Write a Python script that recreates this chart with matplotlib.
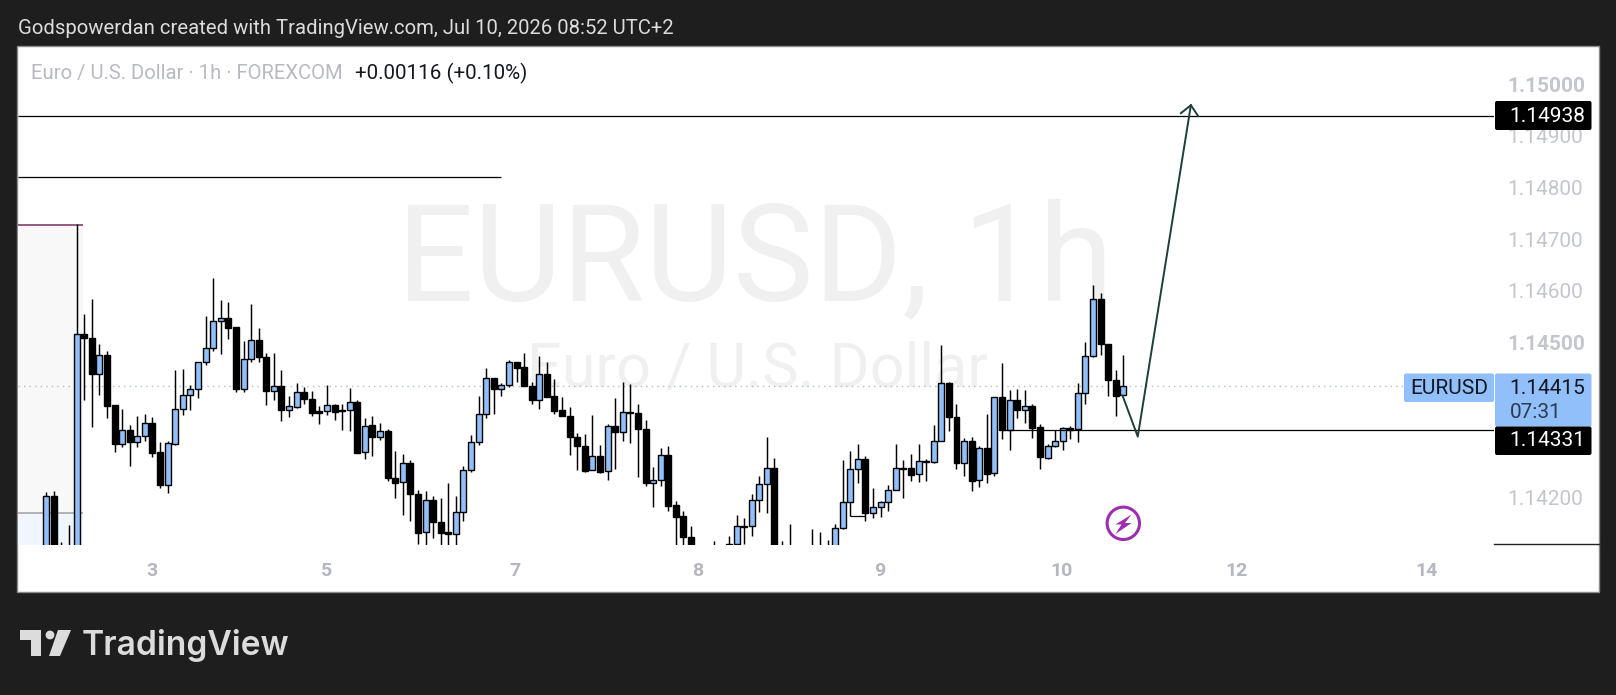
import matplotlib
matplotlib.use('Agg')
from matplotlib import pyplot as plt
from matplotlib.patches import Rectangle, Circle, Polygon, FancyBboxPatch
import numpy as np

# prices in 1e-5 units (first/last few clip below the pane)
opens = [114067, 114203, 114099, 114102, 114092, 114516, 114508, 114440, 114475, 114379,
         114304, 114330, 114308, 114319, 114344, 114288, 114225, 114304, 114371, 114398,
         114411, 114462, 114489, 114541, 114547, 114530, 114410, 114468, 114504, 114471,
         114406, 114415, 114370, 114376, 114404, 114390, 114367, 114367, 114379, 114370,
         114369, 114384, 114288, 114340, 114318, 114328, 114237, 114230, 114266, 114206,
         114133, 114195, 114152, 114134, 114129, 114172, 114253, 114307, 114361, 114431,
         114411, 114417, 114462, 114453, 114415, 114388, 114440, 114396, 114369, 114357,
         114318, 114299, 114253, 114280, 114251, 114338, 114326, 114365, 114363, 114332,
         114229, 114235, 114282, 114185, 114164, 114123, 114096, 114076, 114099, 114079,
         114092, 114111, 114145, 114145, 114195, 114226, 114257, 114099, 114086, 114096,
         114089, 114086, 114089, 114092, 114092, 114141, 114191, 114255, 114274, 114171,
         114181, 114191, 114214, 114257, 114257, 114245, 114270, 114268, 114309, 114421,
         114355, 114266, 114309, 114234, 114295, 114247, 114394, 114330, 114388, 114369,
         114377, 114336, 114276, 114299, 114309, 114334, 114332, 114402, 114473, 114584,
         114497, 114427, 114398]
highs = [114210, 114213, 114114, 114147, 114729, 114555, 114584, 114498, 114483, 114379,
         114371, 114340, 114358, 114361, 114355, 114307, 114309, 114446, 114448, 114417,
         114462, 114551, 114624, 114582, 114578, 114530, 114503, 114575, 114529, 114479,
         114479, 114446, 114396, 114422, 114414, 114406, 114377, 114417, 114382, 114381,
         114412, 114388, 114353, 114357, 114344, 114332, 114290, 114284, 114272, 114214,
         114212, 114203, 114199, 114228, 114203, 114261, 114322, 114397, 114450, 114431,
         114421, 114466, 114462, 114479, 114423, 114473, 114462, 114429, 114394, 114375,
         114324, 114323, 114359, 114302, 114342, 114393, 114423, 114420, 114381, 114350,
         114259, 114295, 114299, 114193, 114174, 114146, 114105, 114099, 114116, 114105,
         114125, 114166, 114160, 114206, 114241, 114317, 114276, 114116, 114149, 114105,
         114099, 114139, 114133, 114118, 114149, 114273, 114290, 114303, 114280, 114218,
         114193, 114224, 114303, 114272, 114284, 114303, 114274, 114340, 114495, 114423,
         114382, 114315, 114317, 114299, 114361, 114394, 114460, 114408, 114411, 114408,
         114382, 114343, 114303, 114330, 114336, 114338, 114422, 114501, 114611, 114595,
         114497, 114447, 114476]
lows = [114054, 114060, 114060, 114067, 114067, 114388, 114337, 114399, 114354, 114289,
        114297, 114262, 114297, 114310, 114279, 114219, 114208, 114302, 114360, 114370,
        114393, 114457, 114484, 114477, 114506, 114405, 114405, 114463, 114463, 114380,
        114388, 114349, 114355, 114374, 114382, 114357, 114343, 114360, 114351, 114331,
        114328, 114287, 114275, 114281, 114311, 114233, 114200, 114167, 114154, 114111,
        114100, 114121, 114095, 114098, 114090, 114154, 114250, 114302, 114353, 114361,
        114397, 114413, 114424, 114415, 114382, 114372, 114395, 114362, 114357, 114283,
        114253, 114250, 114253, 114248, 114235, 114256, 114310, 114306, 114239, 114223,
        114181, 114223, 114175, 114105, 114099, 114079, 114054, 114047, 114054, 114063,
        114079, 114111, 114110, 114125, 114173, 114171, 114073, 114066, 114073, 114066,
        114063, 114079, 114079, 114079, 114079, 114140, 114164, 114228, 114154, 114161,
        114163, 114175, 114214, 114200, 114233, 114231, 114233, 114266, 114309, 114328,
        114256, 114241, 114212, 114221, 114229, 114241, 114313, 114292, 114353, 114344,
        114316, 114256, 114274, 114297, 114293, 114313, 114307, 114382, 114471, 114475,
        114397, 114357, 114398]
closes = [114203, 114073, 114079, 114083, 114516, 114508, 114440, 114475, 114378, 114304,
          114330, 114308, 114319, 114344, 114287, 114225, 114305, 114371, 114398, 114411,
          114462, 114489, 114541, 114547, 114529, 114410, 114468, 114504, 114471, 114406,
          114415, 114370, 114377, 114404, 114390, 114364, 114364, 114379, 114366, 114368,
          114384, 114287, 114339, 114318, 114328, 114237, 114229, 114266, 114206, 114132,
          114195, 114152, 114132, 114129, 114172, 114253, 114307, 114361, 114431, 114411,
          114417, 114462, 114451, 114415, 114388, 114440, 114395, 114368, 114357, 114318,
          114299, 114252, 114280, 114250, 114338, 114326, 114365, 114363, 114332, 114229,
          114235, 114282, 114184, 114163, 114123, 114096, 114073, 114063, 114079, 114099,
          114111, 114145, 114144, 114195, 114226, 114257, 114086, 114079, 114099, 114079,
          114076, 114099, 114102, 114105, 114141, 114191, 114255, 114274, 114171, 114181,
          114191, 114214, 114257, 114256, 114244, 114270, 114269, 114309, 114421, 114355,
          114266, 114309, 114233, 114295, 114246, 114394, 114330, 114388, 114369, 114377,
          114335, 114278, 114299, 114309, 114334, 114330, 114402, 114473, 114584, 114497,
          114427, 114397, 114415]

price_ticks = [1.15, 1.149, 1.148, 1.147, 1.146, 1.145, 1.142]
price_labels = ['1.15000', '1.14900', '1.14800', '1.14700', '1.14600', '1.14500', '1.14200']
bold_prices = ['1.15000', '1.14500']
day_ticks = [14, 37, 61.75, 85.85, 109.9, 133.9, 156.85, 182]
day_labels = ['3', '5', '7', '8', '9', '10', '12', '14']

last_price = 1.14415
target_price = 1.14938
entry_price = 1.14331
upper_level = 1.1482
range_top = 1.14727
range_mid = 1.1417
small_level = 1.14164
arrow_x = [141.9, 143.9, 150.9]
arrow_y = [1.14397, 1.14318, 1.14959]

plt.rcParams['font.family'] = ['Roboto', 'DejaVu Sans']

W, H = 1616, 695
DARK = '#1e1e1e'
BLUE = '#90bff9'
GREY = '#c4c6cf'

fig = plt.figure(figsize=(W / 100, H / 100), dpi=100, facecolor=DARK)


def pixel_axes(zorder):
    a = fig.add_axes([0, 0, 1, 1], zorder=zorder)
    a.set_xlim(0, W)
    a.set_ylim(H, 0)
    a.axis('off')
    return a


bg = pixel_axes(0)
bg.add_patch(Rectangle((17, 46), 1582, 546, fc='white', ec='#8a8a8a', lw=1))

# price pane
left, right, top, bottom = 17.5, 1494, 46.5, 545
ax = fig.add_axes([left / W, 1 - bottom / H, (right - left) / W, (bottom - top) / H], zorder=1)
ax.patch.set_alpha(0)
bar_px = 7.585
ax.set_xlim((left - 46.3) / bar_px, (right - 46.3) / bar_px)
ax.set_ylim(1.15 - (bottom - 84) / 51700, 1.15 + (84 - top) / 51700)
for s in ax.spines.values():
    s.set_visible(False)

o = np.array(opens) / 1e5
h = np.array(highs) / 1e5
l = np.array(lows) / 1e5
c = np.array(closes) / 1e5
x = np.arange(len(o))
up = c >= o

ax.text(0.4995, 0.565, 'EURUSD, 1h', transform=ax.transAxes, ha='center', va='center',
        fontsize=97.5, color='#f0f0f1', zorder=0.5)
ax.text(0.501, 0.353, 'Euro / U.S. Dollar', transform=ax.transAxes, ha='center', va='center',
        fontsize=44, color='#f0f0f1', zorder=0.5)

x0 = ax.get_xlim()[0]
ax.fill_between([x0, 4.9], range_mid, range_top, color='#f8f8f9', lw=0, zorder=0.6)
ax.fill_between([x0, 4.9], ax.get_ylim()[0], range_mid, color='#f0f6fd', lw=0, zorder=0.6)
ax.hlines(range_top, x0, 4.9, color='#7b2d5e', lw=1.1, zorder=1)
ax.hlines(range_mid, x0, 4.9, color='#a0a0a4', lw=1.1, zorder=1)

ax.hlines(last_price, x0, ax.get_xlim()[1], color='#a9c0cc', lw=1, linestyles=(0, (1, 3)), zorder=1)

ax.vlines(x, l, h, color='black', lw=1.05, zorder=2)
ax.bar(x[up], (c - o)[up], bottom=o[up], width=0.79, color=BLUE, edgecolor='black', lw=1.0, zorder=3)
ax.bar(x[~up], (o - c)[~up], bottom=c[~up], width=0.79, color='black', edgecolor='black', lw=1.0, zorder=3)

ax.hlines(target_price, x0, ax.get_xlim()[1], color='black', lw=0.9, zorder=4)
ax.hlines(upper_level, x0, (501 - 46.3) / bar_px, color='black', lw=0.9, zorder=4)
ax.hlines(entry_price, 126, ax.get_xlim()[1], color='black', lw=0.9, zorder=4)
ax.hlines(small_level, 106, 108, color='black', lw=0.9, zorder=4)

ax.plot(arrow_x, arrow_y, color='#1d3f3a', lw=1.4, zorder=5)
ax.plot([arrow_x[2] - 1.32, arrow_x[2], arrow_x[2] + 0.96],
        [arrow_y[2] - 0.000155, arrow_y[2], arrow_y[2] - 0.00021], color='#1d3f3a', lw=1.4, zorder=5)

ax.yaxis.tick_right()
ax.set_yticks(price_ticks)
ax.set_yticklabels(price_labels, fontsize=15, color=GREY)
for t in ax.get_yticklabels():
    if t.get_text() in bold_prices:
        t.set_fontweight('bold')
ax.set_xticks(day_ticks)
ax.set_xticklabels(day_labels, fontsize=14, color='#b4b6c0', fontweight='bold')
ax.tick_params(axis='y', length=0, pad=9.5)
ax.tick_params(axis='x', length=0, pad=12.5)

# chrome on top of the pane
ov = pixel_axes(2)
ov.text(17.5, 29, 'Godspowerdan created with TradingView.com, Jul 10, 2026 08:52 UTC+2',
        color='#dcdcdc', fontsize=14.6, va='center', ha='left')
ov.text(31, 73, 'Euro / U.S. Dollar · 1h · FOREXCOM', color='#b8bac2', fontsize=14.6, va='center')
ov.text(355, 73, '+0.00116 (+0.10%)', color='#131722', fontsize=14.75, va='center')

ov.plot([1494, 1599], [544, 544], color='#222222', lw=1)


def price_box(y0, y1, color, xa=1495, xb=1591.5):
    ov.add_patch(FancyBboxPatch((xa, y0), xb - xa, y1 - y0, boxstyle='round,pad=0,rounding_size=2',
                                fc=color, ec='none', zorder=3))


price_box(101, 130, 'black')
price_box(373.5, 426.5, BLUE)
price_box(426.5, 455, 'black')
price_box(373.5, 402, BLUE, xa=1404, xb=1494)
ov.text(1585, 116, '1.14938', color='white', fontsize=15, ha='right', va='center', zorder=4)
ov.text(1585, 388, '1.14415', color='#131722', fontsize=15, ha='right', va='center', zorder=4)
ov.text(1510, 412, '07:31', color='#2e3a4e', fontsize=15, ha='left', va='center', zorder=4)
ov.text(1585, 441, '1.14331', color='white', fontsize=15, ha='right', va='center', zorder=4)
ov.text(1449, 388, 'EURUSD', color='#131722', fontsize=15, ha='center', va='center', zorder=4)

# lightning badge
ov.add_patch(Circle((1123.3, 523.3), 16.2, fc='none', ec='#9c2fb0', lw=2.2))
ov.add_patch(Polygon([(1131.5, 514.5), (1115.5, 524.5), (1121.5, 524.5), (1115.5, 534), (1131.5, 523), (1125, 523)],
                     fc='#9c2fb0', ec='none'))

# TradingView logo
LOGO = '#dcdcdc'
ov.add_patch(Polygon([(20, 630), (41, 630), (41, 656), (31, 656), (31, 640), (20, 640)], fc=LOGO, ec='none'))
ov.add_patch(Circle((50, 635), 4.4, fc=LOGO, ec='none'))
ov.add_patch(Polygon([(58, 630), (71, 630), (60, 656), (49, 656)], fc=LOGO, ec='none'))
ov.text(82, 645.5, 'TradingView', color=LOGO, fontsize=24.2, fontweight='semibold', family=['Inter', 'DejaVu Sans'],
        va='center', ha='left')

fig.savefig('out.png', dpi=100, facecolor=DARK)
